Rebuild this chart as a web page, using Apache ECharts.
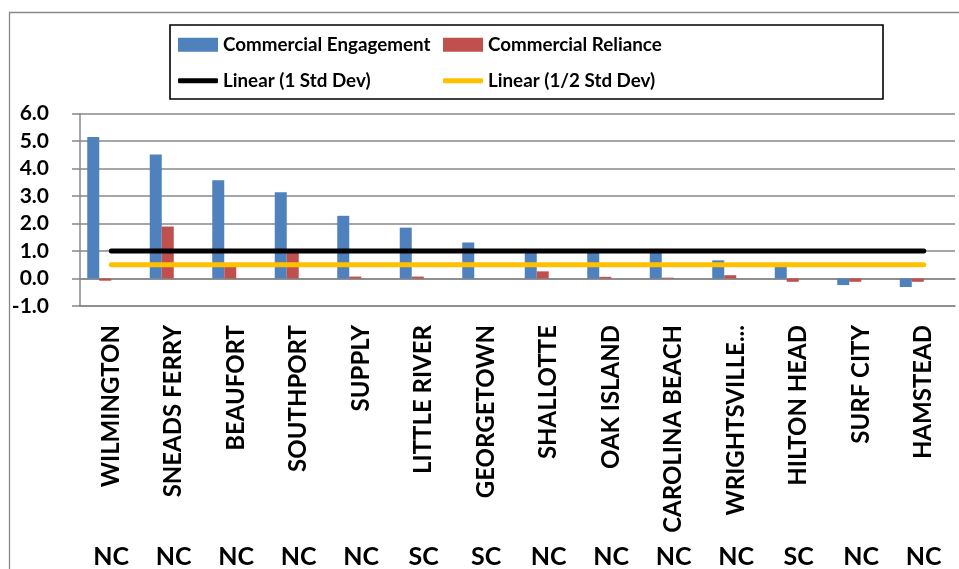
<!DOCTYPE html>
<html>
<head>
<meta charset="utf-8">
<script src="https://cdn.jsdelivr.net/npm/echarts@6/dist/echarts.min.js"></script>
<style>
  html, body { margin: 0; padding: 0; background: #fff; }
  #chart { width: 959px; height: 569px; }
</style>
</head>
<body>
<div id="chart"></div>
<script>
const towns = ['WILMINGTON', 'SNEADS FERRY', 'BEAUFORT', 'SOUTHPORT', 'SUPPLY', 'LITTLE RIVER', 'GEORGETOWN',
  'SHALLOTTE', 'OAK ISLAND', 'CAROLINA BEACH', 'WRIGHTSVILLE...', 'HILTON HEAD', 'SURF CITY', 'HAMSTEAD']
const states = ['NC', 'NC', 'NC', 'NC', 'NC', 'SC', 'SC', 'NC', 'NC', 'NC', 'NC', 'SC', 'NC', 'NC']
const engagement = [5.15, 4.51, 3.57, 3.14, 2.28, 1.85, 1.31, 0.98, 0.97, 0.97, 0.66, 0.57, -0.24, -0.31]
const reliance = [-0.08, 1.89, 0.45, 0.95, 0.07, 0.07, 0, 0.26, 0.06, 0.03, 0.12, -0.12, -0.12, -0.12]
const oneStdDev = [1, 1, 1, 1, 1, 1, 1, 1, 1, 1, 1, 1, 1, 1]
const halfStdDev = [0.5, 0.5, 0.5, 0.5, 0.5, 0.5, 0.5, 0.5, 0.5, 0.5, 0.5, 0.5, 0.5, 0.5]

const font = 'Lato'
const grey = '#888'

const chart = echarts.init(document.getElementById('chart'))

// one legend per entry so each icon can get its own height
function legendAt(name, left, top, h, icon) {
  return {
    data: [name],
    left, top,
    padding: 0,
    itemWidth: 40,
    itemHeight: h,
    icon,
    selectedMode: false,
    textStyle: { fontFamily: font, fontWeight: 'bold', fontSize: 18.8, color: '#000', lineHeight: 22 },
  }
}

chart.setOption({
  animation: false,
  textStyle: { fontFamily: font },
  grid: { left: 80, right: 4, top: 113.5, bottom: 261 },
  graphic: [
    { type: 'rect', shape: { x: 9.5, y: 12.5, width: 1000, height: 1000 }, style: { fill: 'none', stroke: grey, lineWidth: 1.3 } },
    { type: 'rect', shape: { x: 170, y: 25, width: 713, height: 74 }, style: { fill: 'none', stroke: '#000', lineWidth: 1.6 } },
  ],
  legend: [
    legendAt('Commercial Engagement', 178, 33.7, 14, 'rect'),
    legendAt('Commercial Reliance', 443, 33.7, 14, 'rect'),
    legendAt('Linear (1 Std Dev)', 178, 69.7, 5, 'roundRect'),
    legendAt('Linear (1/2 Std Dev)', 443, 69.7, 5, 'roundRect'),
  ],
  xAxis: [
    {
      type: 'category',
      data: towns,
      position: 'bottom',
      axisLine: { onZero: true, lineStyle: { color: grey, width: 1.5 } },
      axisTick: { interval: 0, length: 9, lineStyle: { color: grey, width: 1.5 } },
      axisLabel: { show: false },
    },
    {
      type: 'category',
      data: towns,
      position: 'bottom',
      axisLine: { onZero: false, lineStyle: { color: grey, width: 1.5 } },
      axisTick: { interval: 0, length: 280, lineStyle: { color: grey, width: 1.5 } },
      axisLabel: { interval: 0, rotate: 90, margin: 19, fontFamily: font, fontWeight: 'bold', fontSize: 24, color: '#000' },
    },
    {
      type: 'category',
      data: states,
      position: 'bottom',
      axisLine: { show: false, onZero: false },
      axisTick: { show: false },
      axisLabel: { interval: 0, margin: 238, fontFamily: font, fontWeight: 'bold', fontSize: 25, color: '#000' },
    },
  ],
  yAxis: {
    type: 'value',
    min: -1,
    max: 6,
    interval: 1,
    axisLine: { show: true, lineStyle: { color: grey, width: 1.5 } },
    axisTick: { show: true, length: 8, lineStyle: { color: grey, width: 1.5 } },
    splitLine: { lineStyle: { color: grey, width: 1.5 } },
    axisLabel: { margin: 31, fontFamily: font, fontWeight: 'bold', fontSize: 21, color: '#000', formatter: v => v.toFixed(1) },
  },
  series: [
    { name: 'Commercial Engagement', type: 'bar', data: engagement, barWidth: 12, barGap: '0%', itemStyle: { color: '#4F81BD' } },
    { name: 'Commercial Reliance', type: 'bar', data: reliance, barWidth: 12, itemStyle: { color: '#C0504D' } },
    { name: '1 Std Dev', type: 'bar', data: oneStdDev, barWidth: 12, silent: true, itemStyle: { color: 'rgba(0,0,0,0)' } },
    { name: '1/2 Std Dev', type: 'bar', data: halfStdDev, barWidth: 12, silent: true, itemStyle: { color: 'rgba(0,0,0,0)' } },
    { name: 'Linear (1 Std Dev)', type: 'line', data: oneStdDev, symbol: 'none', z: 5, itemStyle: { color: '#000' }, lineStyle: { color: '#000', width: 5, cap: 'round' } },
    { name: 'Linear (1/2 Std Dev)', type: 'line', data: halfStdDev, symbol: 'none', z: 5, itemStyle: { color: '#FFC000' }, lineStyle: { color: '#FFC000', width: 5, cap: 'round' } },
  ],
})
</script>
</body>
</html>
